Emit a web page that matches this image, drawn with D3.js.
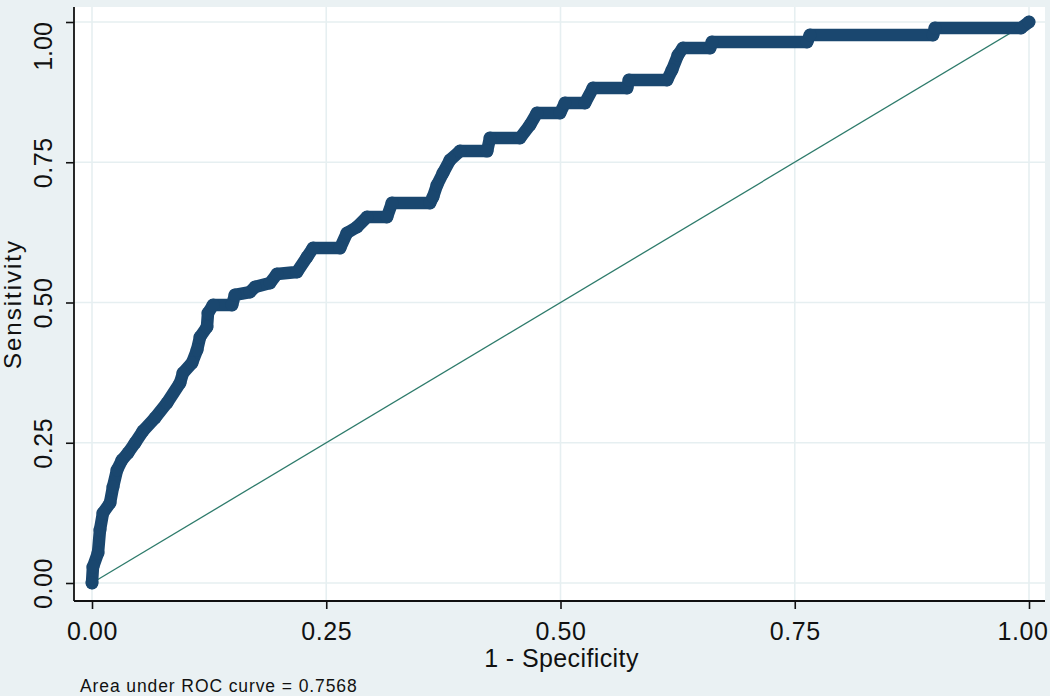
<!DOCTYPE html>
<html><head><meta charset="utf-8">
<script src="https://cdn.jsdelivr.net/npm/d3@7"></script>
<style>body{margin:0;background:#eaf1f3;} text{font-family:"Liberation Sans",Arial,sans-serif;}</style>
</head><body>
<svg id="c" width="1050" height="696"></svg>
<script>
const fpr = [0,0.001,0.0064,0.0085,0.0117,0.0192,0.0224,0.0267,0.032,0.0384,0.0459,0.0544,0.0672,0.08,0.0939,0.0971,0.1067,0.1121,0.1153,0.1227,0.1238,0.1292,0.1494,0.1526,0.1686,0.174,0.19,0.1974,0.2188,0.2295,0.2359,0.2647,0.2721,0.2828,0.2935,0.3148,0.3202,0.3607,0.3639,0.3682,0.3746,0.3821,0.3927,0.4216,0.4248,0.4568,0.4674,0.4749,0.4995,0.5048,0.5261,0.5347,0.571,0.5731,0.6137,0.619,0.6254,0.6307,0.6596,0.6617,0.7631,0.7663,0.8975,0.8997,0.9915,1];
const tpr = [0,0.0285,0.0535,0.0945,0.1248,0.1426,0.1711,0.2014,0.2193,0.2317,0.2496,0.2709,0.2941,0.3209,0.3565,0.3743,0.3922,0.4153,0.4385,0.4563,0.4813,0.4955,0.4955,0.5134,0.5187,0.5276,0.5348,0.5508,0.5544,0.5811,0.5971,0.5971,0.6239,0.6346,0.6524,0.6524,0.6774,0.6774,0.6881,0.7094,0.7308,0.754,0.77,0.77,0.7932,0.7932,0.8164,0.8378,0.8378,0.8556,0.8556,0.8824,0.8824,0.8966,0.8966,0.9144,0.9412,0.9537,0.9537,0.9643,0.9643,0.9768,0.9768,0.9893,0.9893,1];
const tickVals = [0,0.25,0.5,0.75,1];
const tickLabels = ["0.00","0.25","0.50","0.75","1.00"];
const xTitle = "1 - Specificity", yTitle = "Sensitivity";
const note = "Area under ROC curve = 0.7568";

const svg = d3.select("#c");
const x = d3.scaleLinear().domain([0,1]).range([92,1029]);
const y = d3.scaleLinear().domain([0,1]).range([583,22]);
const PL=74, PR=1045, PT=7, PB=601;
svg.append("rect").attr("width",1050).attr("height",696).attr("fill","#eaf1f3");
svg.append("rect").attr("x",PL).attr("y",PT).attr("width",PR-PL).attr("height",PB-PT).attr("fill","#ffffff");
// grid
svg.selectAll(".gx").data(tickVals).join("line").attr("x1",d=>x(d)).attr("x2",d=>x(d)).attr("y1",PT).attr("y2",PB).attr("stroke","#e6eff1").attr("stroke-width",1.6);
svg.selectAll(".gy").data(tickVals).join("line").attr("y1",d=>y(d)).attr("y2",d=>y(d)).attr("x1",PL).attr("x2",PR).attr("stroke","#e6eff1").attr("stroke-width",1.6);
// axes
const xa = svg.append("g").attr("transform",`translate(0,${PB})`).call(d3.axisBottom(x).tickValues(tickVals).tickFormat((d,i)=>tickLabels[i]).tickSize(8).tickSizeOuter(0));
const ya = svg.append("g").attr("transform",`translate(${PL},0)`).call(d3.axisLeft(y).tickValues(tickVals).tickFormat((d,i)=>tickLabels[i]).tickSize(8).tickSizeOuter(0));
[xa,ya].forEach(a=>{a.select(".domain").remove();a.selectAll("line").attr("stroke","#111").attr("stroke-width",1.6);a.selectAll("text").attr("font-size",25).attr("letter-spacing",0.6).attr("fill","#111").attr("font-family","Liberation Sans, Arial, sans-serif");});
xa.selectAll("text").attr("dy",null).attr("y",39);
xa.selectAll("text").filter((d,i)=>i===4).attr("text-anchor","end").attr("dx",19);
ya.selectAll("text").attr("text-anchor","middle").attr("dy",null).attr("x",0).attr("y",0)
  .attr("transform","translate(-22,0) rotate(-90)");
ya.selectAll("text").filter((d,i)=>i===4).attr("text-anchor","end").attr("letter-spacing",0).attr("dx",-1).attr("transform","translate(-22,0) rotate(-90)").attr("x",-(-22+0)).attr("x",-0).attr("dx",0).attr("text-anchor","middle").attr("transform","translate(-22,24) rotate(-90)");
svg.append("line").attr("x1",PL).attr("x2",PL).attr("y1",PT).attr("y2",PB).attr("stroke","#111").attr("stroke-width",1.8);
svg.append("line").attr("x1",PL).attr("x2",PR).attr("y1",PB).attr("y2",PB).attr("stroke","#111").attr("stroke-width",1.8);
// reference line
svg.append("line").attr("x1",x(0)).attr("y1",y(0)).attr("x2",x(1)).attr("y2",y(1)).attr("stroke","#2e7b6b").attr("stroke-width",1.3);
// ROC curve
const pts = fpr.map((f,i)=>[f,tpr[i]]);
svg.append("path").datum(pts).attr("d",d3.line().x(d=>x(d[0])).y(d=>y(d[1])))
  .attr("fill","none").attr("stroke","#1a476f").attr("stroke-width",12.5).attr("stroke-linejoin","round").attr("stroke-linecap","round");
svg.selectAll(".m").data(pts).join("circle").attr("cx",d=>x(d[0])).attr("cy",d=>y(d[1])).attr("r",6.5).attr("fill","#1a476f");
// titles
svg.append("text").attr("x",(PL+PR)/2+2).attr("y",667).attr("text-anchor","middle").attr("font-size",25).attr("letter-spacing",0.4).attr("fill","#111").text(xTitle);
svg.append("text").attr("transform",`translate(21,${(PT+PB)/2}) rotate(-90)`).attr("text-anchor","middle").attr("font-size",24).attr("letter-spacing",2).attr("fill","#111").text(yTitle);
svg.append("text").attr("x",80).attr("y",692).attr("font-size",17.5).attr("letter-spacing",0.9).attr("fill","#111").text(note);
</script>
</body></html>
